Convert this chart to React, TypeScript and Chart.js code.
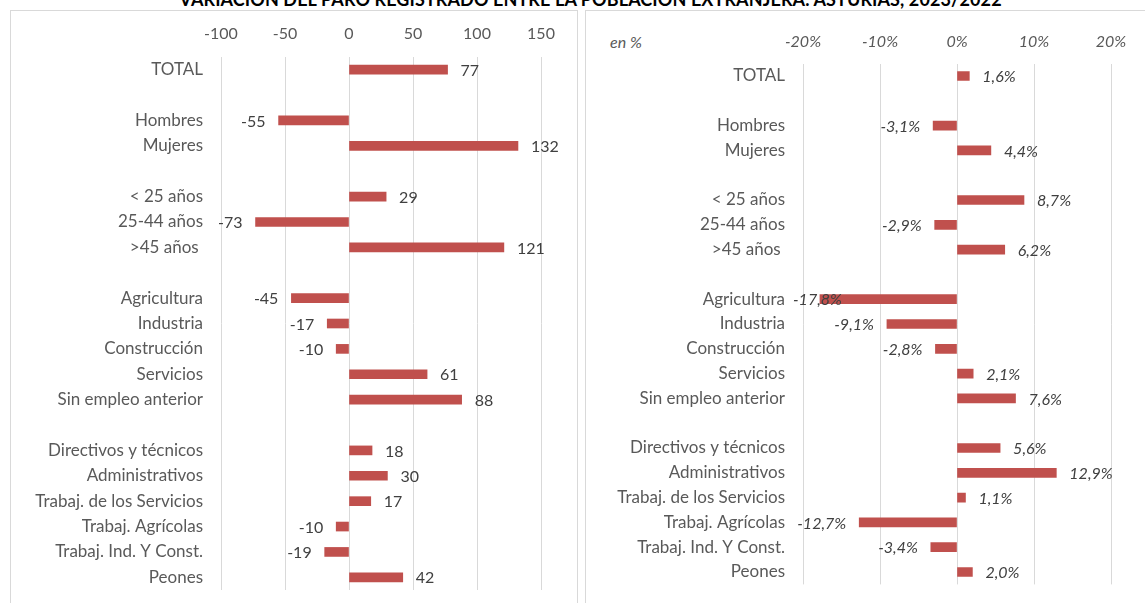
import React, { useEffect, useRef } from "react";
import { Chart, registerables } from "chart.js";
Chart.register(...registerables);

const TITLE = "VARIACIÓN DEL PARO REGISTRADO ENTRE LA POBLACIÓN EXTRANJERA. ASTURIAS, 2023/2022";
const UNIT_NOTE = "en %";

const categories = [
  "TOTAL", "", "Hombres", "Mujeres", "", "< 25 años", "25-44 años", ">45 años ", "",
  "Agricultura", "Industria", "Construcción", "Servicios", "Sin empleo anterior", "",
  "Directivos y técnicos", "Administrativos", "Trabaj. de los Servicios", "Trabaj. Agrícolas",
  "Trabaj. Ind. Y Const.", "Peones",
];
const absoluteChange = [77, null, -55, 132, null, 29, -73, 121, null, -45, -17, -10, 61, 88, null, 18, 30, 17, -10, -19, 42];
const percentChange = [1.6, null, -3.1, 4.4, null, 8.7, -2.9, 6.2, null, -17.8, -9.1, -2.8, 2.1, 7.6, null, 5.6, 12.9, 1.1, -12.7, -3.4, 2.0];
const absAxis = { min: -100, max: 150, step: 50 };
const pctAxis = { min: -20, max: 20, step: 10 };

const BAR = "#C0504D";
const GRID = "#D9D9D9";
const LABEL = "#595959";
const VALUE = "#404040";
const FONT = "Lato";

function valueLabels(fmt: (v: number) => string, italic: boolean) {
  return {
    id: "valueLabels",
    afterDatasetsDraw(chart: any) {
      const ctx = chart.ctx;
      const meta = chart.getDatasetMeta(0);
      const data = chart.data.datasets[0].data;
      ctx.save();
      ctx.font = `${italic ? "italic " : ""}16px ${FONT}`;
      ctx.fillStyle = VALUE;
      ctx.textBaseline = "middle";
      ctx.textAlign = "left";
      meta.data.forEach((bar: any, i: number) => {
        const v = data[i];
        if (v == null) return;
        const text = fmt(v);
        const w = ctx.measureText(text).width;
        let x: number;
        if (v >= 0) x = bar.x + 13;
        else {
          x = bar.x - 13 - w;
          if (x < chart.chartArea.left - 10) x = chart.chartArea.left - 10;
        }
        ctx.fillText(text, x, bar.y + 1);
      });
      ctx.restore();
    },
  };
}

function makeConfig(p: {
  data: (number | null)[];
  axis: { min: number; max: number; step: number };
  yWidth: number;
  xHeight: number;
  xPad: number;
  padRight: number;
  padBottom: number;
  italicTicks: boolean;
  tickFmt: (v: number) => string;
  valFmt: (v: number) => string;
  italicValues: boolean;
}): any {
  return {
    type: "bar",
    data: {
      labels: categories,
      datasets: [
        {
          data: p.data,
          backgroundColor: BAR,
          barThickness: 9,
        },
      ],
    },
    options: {
      indexAxis: "y",
      responsive: false,
      animation: false,
      layout: { padding: { left: 0, top: 0, right: p.padRight, bottom: p.padBottom } },
      plugins: { legend: { display: false }, tooltip: { enabled: false }, title: { display: false } },
      scales: {
        x: {
          position: "top",
          min: p.axis.min,
          max: p.axis.max,
          afterFit: (s: any) => {
            s.height = p.xHeight;
          },
          grid: { color: GRID, lineWidth: 1, drawTicks: false },
          border: { display: false },
          ticks: {
            stepSize: p.axis.step,
            padding: p.xPad,
            color: LABEL,
            font: { family: FONT, size: 16, style: p.italicTicks ? "italic" : "normal" },
            callback: (v: any) => p.tickFmt(Number(v)),
          },
        },
        y: {
          afterFit: (s: any) => {
            s.width = p.yWidth;
          },
          grid: { display: false, drawTicks: true, tickLength: 18 },
          border: { display: false },
          ticks: {
            autoSkip: false,
            padding: 0,
            color: LABEL,
            font: { family: FONT, size: 17 },
          },
        },
      },
    },
    plugins: [valueLabels(p.valFmt, p.italicValues)],
  };
}

function ChartCanvas({ config, width, height, style }: { config: any; width: number; height: number; style: any }) {
  const ref = useRef<HTMLCanvasElement | null>(null);
  useEffect(() => {
    if (!ref.current) return;
    const chart = new Chart(ref.current, config);
    return () => chart.destroy();
  }, []);
  return <canvas ref={ref} width={width} height={height} style={{ position: "absolute", width, height, ...style }} />;
}

export default function App() {
  const leftCfg = makeConfig({
    data: absoluteChange,
    axis: absAxis,
    yWidth: 211,
    xHeight: 47,
    xPad: 14,
    padRight: 36,
    padBottom: 13,
    italicTicks: false,
    tickFmt: (v) => String(v),
    valFmt: (v) => String(v),
    italicValues: false,
  });
  const rightCfg = makeConfig({
    data: percentChange,
    axis: pctAxis,
    yWidth: 218,
    xHeight: 53.6,
    xPad: 12,
    padRight: 34,
    padBottom: 18.6,
    italicTicks: true,
    tickFmt: (v) => `${v}%`,
    valFmt: (v) => `${v.toFixed(1).replace(".", ",")}%`,
    italicValues: true,
  });
  return (
    <div style={{ position: "absolute", left: 0, top: 0, width: 1145, height: 603, overflow: "hidden", background: "#fff", fontFamily: FONT }}>
      <div style={{ position: "absolute", left: 10, top: 10, width: 566, height: 620, border: `1px solid ${GRID}` }} />
      <div style={{ position: "absolute", left: 585, top: 10, width: 600, height: 620, border: `1px solid ${GRID}` }} />
      <div
        style={{
          position: "absolute",
          left: 0,
          width: 1181,
          top: -11,
          lineHeight: "20px",
          textAlign: "center",
          fontWeight: 700,
          fontSize: 18,
          letterSpacing: "0.1px",
          color: "#000",
          whiteSpace: "nowrap",
        }}
      >
        {TITLE}
      </div>
      <div style={{ position: "absolute", left: 610, top: 32, lineHeight: "20px", fontSize: 16, fontStyle: "italic", color: LABEL }}>
        {UNIT_NOTE}
      </div>
      <ChartCanvas config={leftCfg} width={567} height={593} style={{ left: 10, top: 10 }} />
      <ChartCanvas config={rightCfg} width={560} height={593} style={{ left: 585, top: 10 }} />
    </div>
  );
}
